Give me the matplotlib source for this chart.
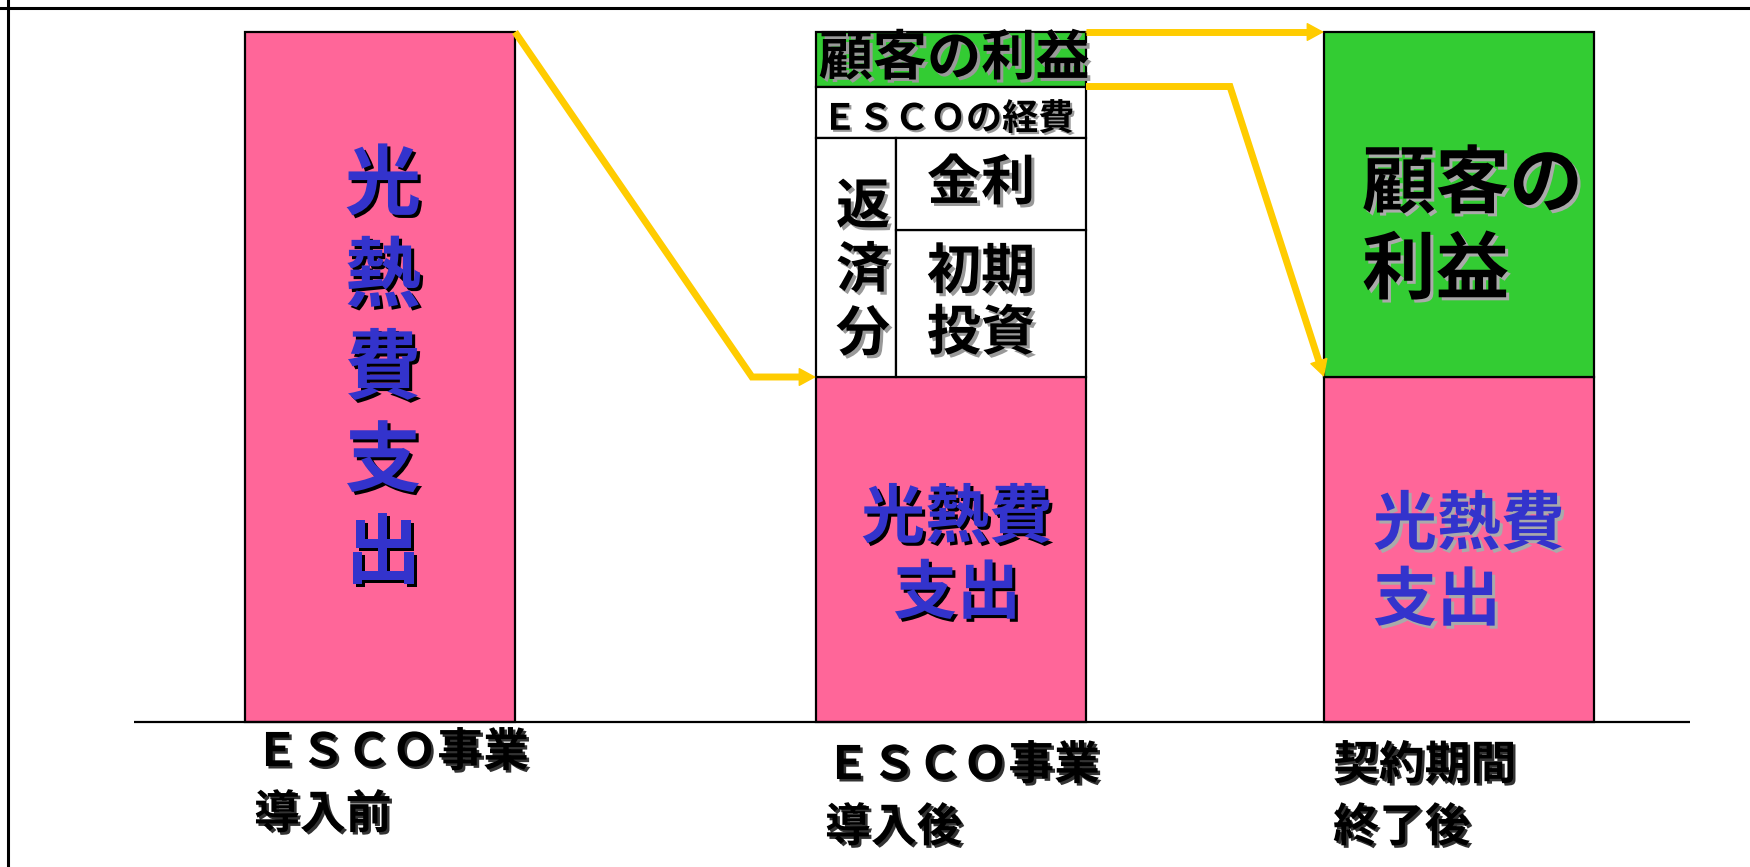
import numpy as np
import matplotlib
matplotlib.use('Agg')
import matplotlib.pyplot as plt
import matplotlib.patheffects as pe
from matplotlib.lines import Line2D

plt.rcParams['font.family'] = ['Noto Sans CJK JP', 'DejaVu Sans']

# data (top of bar = 100)
categories = ['ＥＳＣＯ事業\n導入前', 'ＥＳＣＯ事業\n導入後', '契約期間\n終了後']
energy_cost = np.array([100, 50, 50])          # 光熱費支出
initial_invest = np.array([0, 21.3, 0])        # 初期投資
interest = np.array([0, 13.3, 0])              # 金利
esco_cost = np.array([0, 7.5, 0])              # ＥＳＣＯの経費
customer_benefit = np.array([0, 7.9, 50])      # 顧客の利益

# layout (x in pixels)
xpos = np.array([380, 951, 1459])
width = 270
repay_w = 80

pink = '#FF6699'
green = '#33CC33'
blue = '#3333CC'
yellow = '#FFCC00'

fig = plt.figure(figsize=(17.5, 8.67), dpi=100)
ax = fig.add_axes([0, 0, 1, 1])
ax.set_xlim(0, 1750)
ax.set_ylim(-145 / 6.9, 722 / 6.9)
ax.axis('off')

b_invest = energy_cost
b_interest = b_invest + initial_invest
b_esco = b_interest + interest
b_benefit = b_esco + esco_cost
top = b_benefit + customer_benefit

edge = dict(edgecolor='black', linewidth=1.6)
ax.bar(xpos, energy_cost, width, color=pink, **edge, zorder=2)
m = customer_benefit > 0
ax.bar(xpos[m], customer_benefit[m], width, bottom=b_benefit[m], color=green, **edge, zorder=2)
m = esco_cost > 0
ax.bar(xpos[m], esco_cost[m], width, bottom=b_esco[m], color='white', **edge, zorder=2)
m = (initial_invest + interest) > 0
left = xpos - width / 2
ax.bar(left[m], (initial_invest + interest)[m], repay_w, bottom=b_invest[m], align='edge',
       color='white', **edge, zorder=2)
ax.bar(left[m] + repay_w, initial_invest[m], width - repay_w, bottom=b_invest[m], align='edge',
       color='white', **edge, zorder=2)
ax.bar(left[m] + repay_w, interest[m], width - repay_w, bottom=b_interest[m], align='edge',
       color='white', **edge, zorder=2)

# baseline
ax.hlines(0, 134, 1690, color='black', lw=1.6, zorder=3)

# frame
fig.add_artist(Line2D([0, 1], [1 - 7.5 / 867] * 2, color='black', lw=2.2))
fig.add_artist(Line2D([7.5 / 1750] * 2, [0, 1], color='black', lw=2.2))


def shadow(c, off=2.2):
    return [pe.withSimplePatchShadow(offset=(off, -off), shadow_rgbFace=c, alpha=1)]


def arrow(points):
    pts = np.array(points, float)
    disp = ax.transData.transform(pts)
    d = disp[-1] - disp[-2]
    d = d / np.hypot(*d)
    base = ax.transData.inverted().transform(disp[-1] - d * 12)
    line = np.vstack([pts[:-1], base])
    ax.plot(line[:, 0], line[:, 1], color=yellow, lw=5, solid_joinstyle='miter',
            solid_capstyle='butt', zorder=4)
    ax.annotate('', xy=pts[-1], xytext=pts[-2],
                arrowprops=dict(arrowstyle='-|>,head_length=0.55,head_width=0.3',
                                mutation_scale=20, color=yellow, lw=1,
                                shrinkA=0, shrinkB=0), zorder=4)


right = xpos + width / 2
arrow([(right[0], top[0]), (right[0] + 237, energy_cost[1]), (left[1], energy_cost[1])])
arrow([(right[1], top[1]), (left[2], top[2])])
arrow([(right[1], b_benefit[1]), (right[1] + 144, b_benefit[1]), (left[2], energy_cost[2])])

# texts inside bars
ax.text(xpos[0] + 3, energy_cost[0] / 2 + 1, '光\n熱\n費\n支\n出', ha='center', va='center',
        fontsize=55, fontweight='bold', color=blue, linespacing=1.24,
        path_effects=shadow('black'), zorder=5)

ax.text(xpos[1] + 3, b_benefit[1] + customer_benefit[1] / 2, '顧客の利益', ha='center',
        va='center', fontsize=39, fontweight='bold', color='black',
        path_effects=shadow('#999999'), zorder=5)
ax.text(xpos[1] - 3, b_esco[1] + esco_cost[1] / 2 - 1, 'ＥＳＣＯの経費', ha='center',
        va='center', fontsize=26, fontweight='bold', color='black',
        path_effects=shadow('#999999', 1.5), zorder=5)
ax.text(left[1] + repay_w / 2 + 7, b_invest[1] + (initial_invest[1] + interest[1]) / 2 - 2,
        '返\n済\n分', ha='center', va='center', fontsize=39, fontweight='bold',
        color='black', linespacing=1.2, path_effects=shadow('#999999'), zorder=5)
xr = left[1] + repay_w + (width - repay_w) / 2 - 10
ax.text(xr, b_interest[1] + interest[1] / 2, '金利', ha='center', va='center',
        fontsize=39, fontweight='bold', color='black',
        path_effects=shadow('#999999'), zorder=5)
ax.text(xr, b_invest[1] + initial_invest[1] / 2, '初期\n投資', ha='center', va='center',
        fontsize=39, fontweight='bold', color='black', linespacing=1.15,
        path_effects=shadow('#999999'), zorder=5)
ax.text(xpos[1] + 6, energy_cost[1] / 2 - 1, '光熱費\n支出', ha='center', va='center',
        fontsize=46, fontweight='bold', color=blue, linespacing=1.2,
        path_effects=shadow('black'), zorder=5)

ax.text(left[2] + 38, b_benefit[2] + customer_benefit[2] / 2 - 3.5, '顧客の\n利益', ha='left',
        va='center', fontsize=53, fontweight='bold', color='black', linespacing=1.2,
        path_effects=shadow('#AAAAAA'), zorder=5)
ax.text(left[2] + 49, energy_cost[2] / 2 - 2, '光熱費\n支出', ha='left', va='center',
        fontsize=46, fontweight='bold', color=blue, linespacing=1.2,
        path_effects=shadow('#AAAAAA'), zorder=5)

# category labels
label_y = [-8 / 6.9, -21 / 6.9, -21 / 6.9]
for i, lab in enumerate(categories):
    ax.text(left[i] + 9, label_y[i], lab, ha='left', va='top', fontsize=33,
            fontweight='bold', color='black', linespacing=1.45,
            path_effects=shadow('#333333', 1.8), zorder=5)

fig.savefig('out.png', dpi=100)
